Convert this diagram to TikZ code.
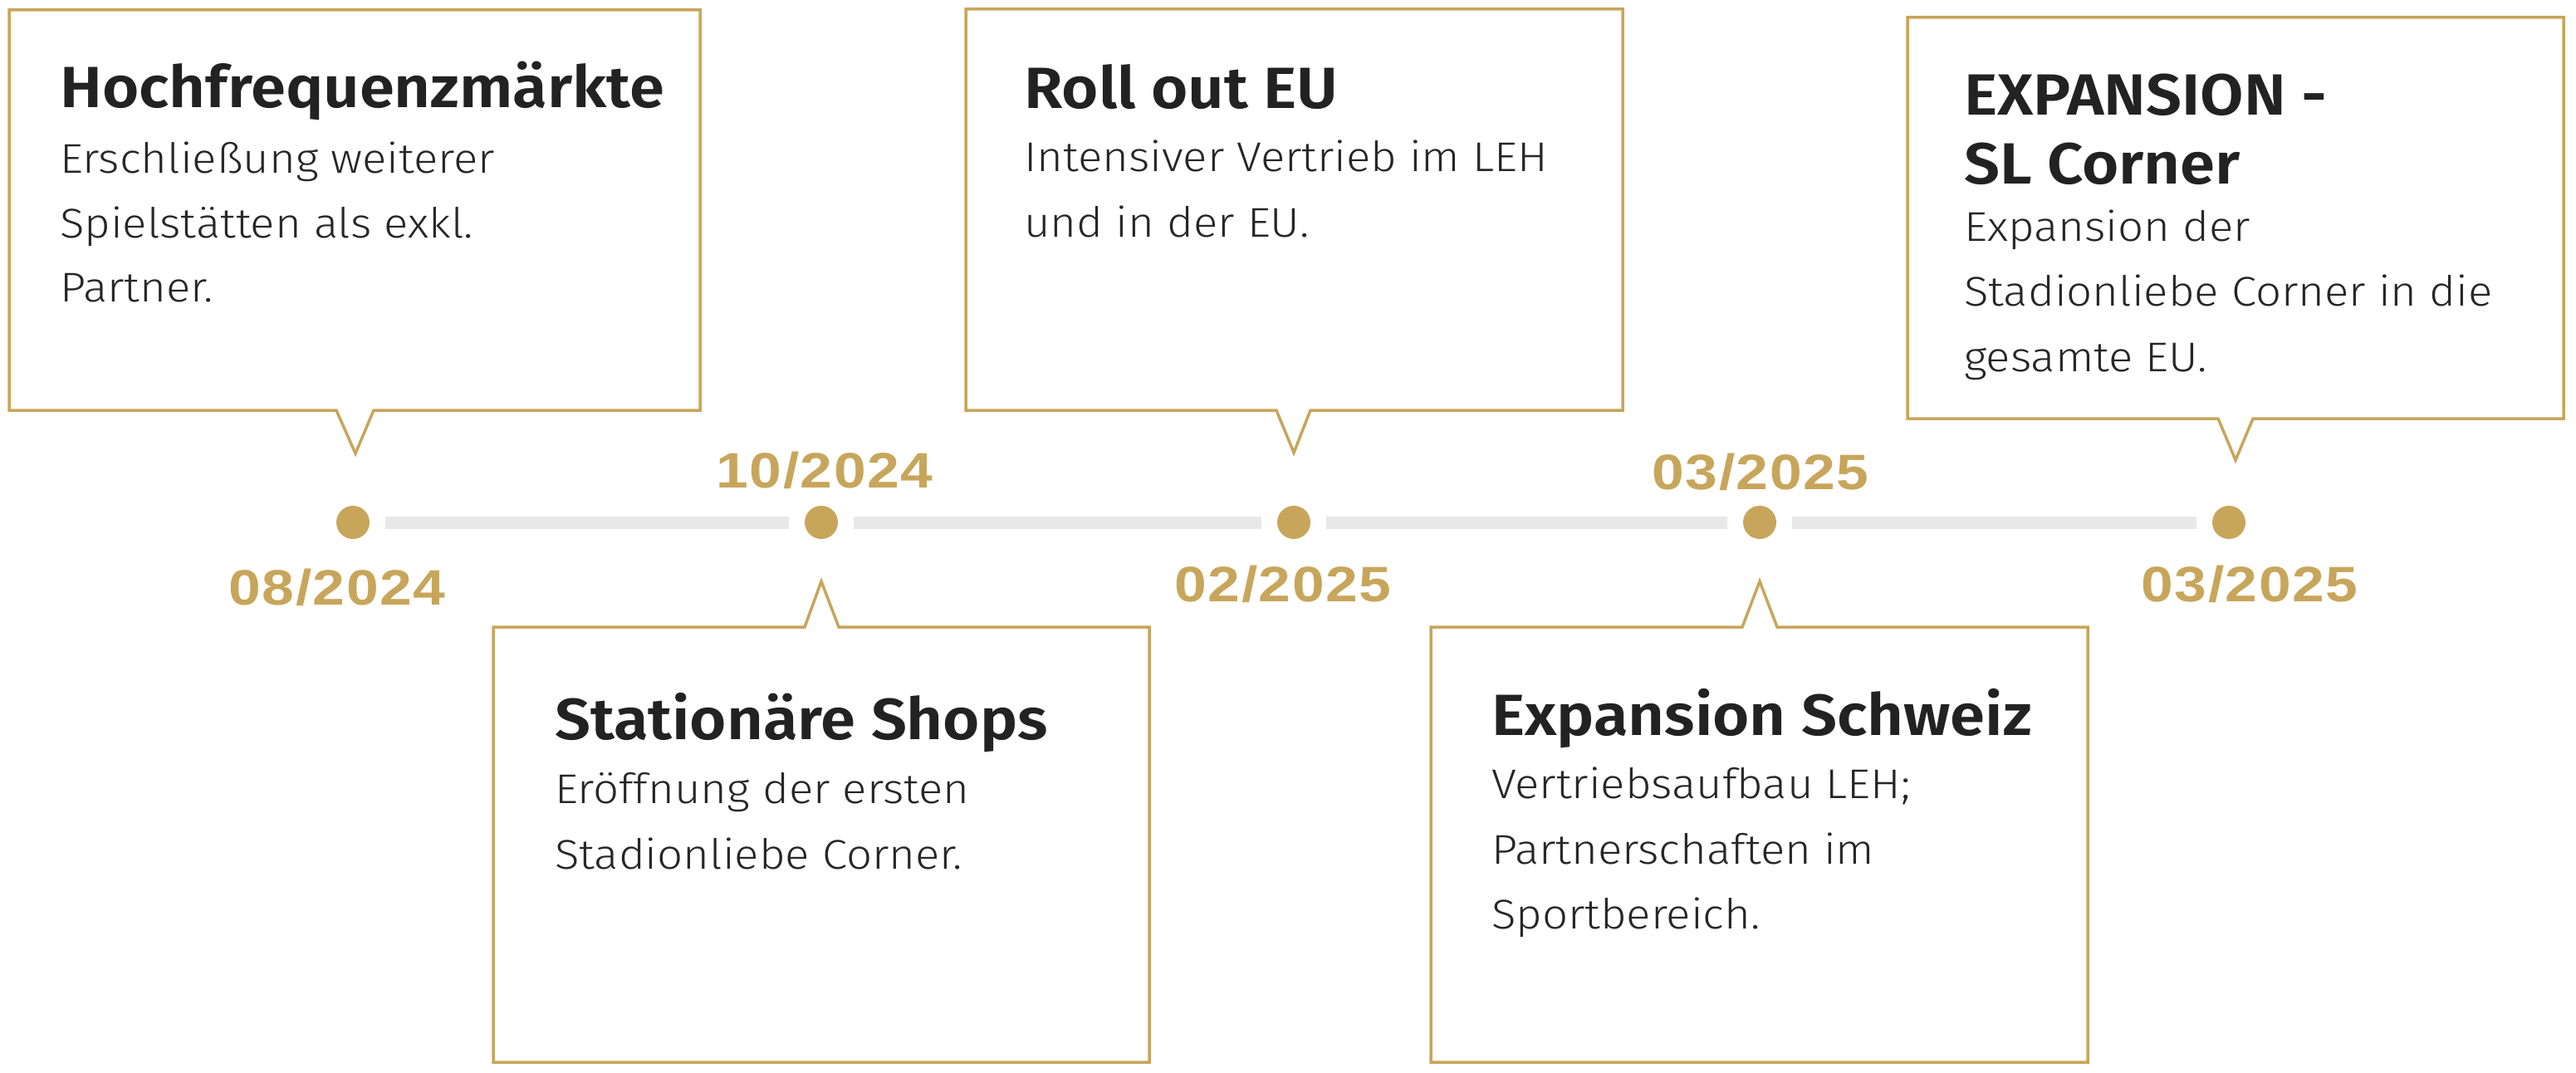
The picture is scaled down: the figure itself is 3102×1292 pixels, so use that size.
\documentclass[tikz,border=0pt]{standalone}
\usepackage{fontspec}
\setmainfont{Fira Sans Light}[FakeStretch=1.09]
\newfontfamily\titlefont{Fira Sans SemiBold}[FakeStretch=1.085]
\newfontfamily\datefont{Liberation Sans Bold}[FakeStretch=1.16,LetterSpace=2.5]
\definecolor{gold}{HTML}{C7A65B}
\definecolor{linegrey}{HTML}{E8E8E8}
\definecolor{titlecol}{HTML}{222222}
\definecolor{bodycol}{HTML}{262626}
\tikzset{
  tldot/.style={circle, fill=gold, minimum size=40pt, inner sep=0pt, outer sep=19pt},
  tlline/.style={draw=linegrey, line width=15pt, line cap=butt},
  callout/.style={draw=gold, line width=3.5pt, line join=miter, fill=white},
  titletext/.style={anchor=base west, inner sep=0pt, text=titlecol, font=\titlefont\fontsize{70}{84}\selectfont},
  bodytext/.style={anchor=base west, inner sep=0pt, text=bodycol, font=\fontsize{50}{78}\selectfont},
  datetext/.style={anchor=base, inner sep=0pt, text=gold, font=\datefont\fontsize{60}{70}\selectfont}
}
\begin{document}
\begin{tikzpicture}[x=1pt,y=-1pt]
\useasboundingbox (0,0) rectangle (3102,1292);
\fill[white] (0,0) rectangle (3102,1292);

% callout boxes (pointing down)
\draw[callout] (11,12) -- (843,12) -- (843,494) -- (450,494) -- (428,546) -- (405,494) -- (11,494) -- cycle;
\draw[callout] (1163,11) -- (1954,11) -- (1954,494) -- (1578,494) -- (1558,545) -- (1537,494) -- (1163,494) -- cycle;
\draw[callout] (2297,21) -- (3087,21) -- (3087,504) -- (2713,504) -- (2692,554) -- (2671,504) -- (2297,504) -- cycle;
% callout boxes (pointing up)
\draw[callout] (594,755) -- (969,755) -- (989,700) -- (1010,755) -- (1384,755) -- (1384,1279) -- (594,1279) -- cycle;
\draw[callout] (1723,755) -- (2098,755) -- (2119,700) -- (2140,755) -- (2514,755) -- (2514,1279) -- (1723,1279) -- cycle;

% timeline dots
\node[tldot] (d1) at (425,629) {};
\node[tldot] (d2) at (989,629) {};
\node[tldot] (d3) at (1558,629) {};
\node[tldot] (d4) at (2119,629) {};
\node[tldot] (d5) at (2684,629) {};
\draw[tlline] (d1) -- (d2);
\draw[tlline] (d2) -- (d3);
\draw[tlline] (d3) -- (d4);
\draw[tlline] (d4) -- (d5);

% dates
\node[datetext] (dt1) at (406,728) {08/2024};
\node[datetext] (dt2) at (993,587) {10/2024};
\node[datetext] (dt3) at (1545,724) {02/2025};
\node[datetext] (dt4) at (2120,589) {03/2025};
\node[datetext] (dt5) at (2709,724) {03/2025};

% box 1
\node[titletext] (t1) at (72,130) {Hochfrequenzmärkte};
\node[bodytext] (b1a) at (72,208) {Erschließung weiterer};
\node[bodytext] (b1b) at (72,286) {Spielstätten als exkl.};
\node[bodytext] (b1c) at (72,363) {Partner.};
% box 3
\node[titletext] (t3) at (1233,131) {Roll out EU};
\node[bodytext] (b3a) at (1233,207) {Intensiver Vertrieb im LEH};
\node[bodytext] (b3b) at (1233,285) {und in der EU.};
% box 5
\node[titletext] (t5a) at (2365,139) {EXPANSION -};
\node[titletext] (t5b) at (2365,222) {SL Corner};
\node[bodytext] (b5a) at (2365,290) {Expansion der};
\node[bodytext] (b5b) at (2365,368) {Stadionliebe Corner in die};
\node[bodytext] (b5c) at (2365,447) {gesamte EU.};
% box 2
\node[titletext] (t2) at (668,890) {Stationäre Shops};
\node[bodytext] (b2a) at (668,967) {Eröffnung der ersten};
\node[bodytext] (b2b) at (668,1046) {Stadionliebe Corner.};
% box 4
\node[titletext] (t4) at (1796,885) {Expansion Schweiz};
\node[bodytext] (b4a) at (1796,961) {Vertriebsaufbau LEH;};
\node[bodytext] (b4b) at (1796,1040) {Partnerschaften im};
\node[bodytext] (b4c) at (1796,1118) {Sportbereich.};
\end{tikzpicture}
\end{document}
